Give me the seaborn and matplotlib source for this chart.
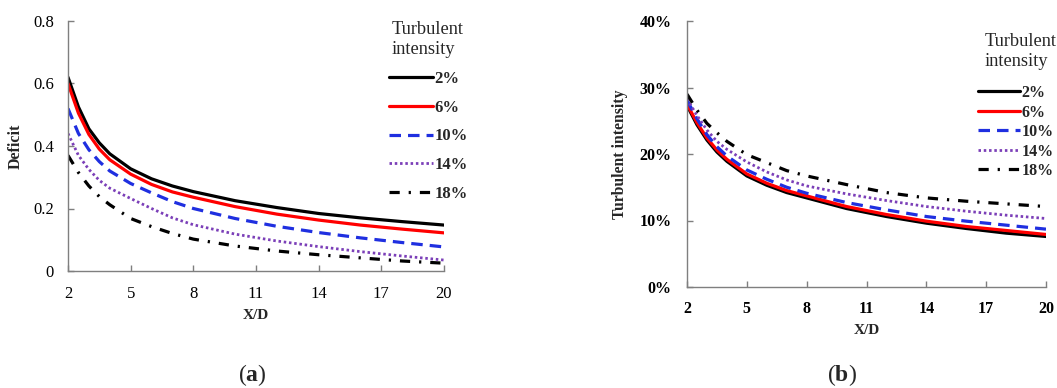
import matplotlib
matplotlib.use("Agg")
import matplotlib.pyplot as plt
import seaborn as sns
import pandas as pd
from matplotlib.ticker import FixedLocator, FuncFormatter

sns.set_theme(style="white")
plt.rcParams["font.family"] = ["Liberation Serif", "DejaVu Serif"]
plt.rcParams["mathtext.fontset"] = "custom"
plt.rcParams["mathtext.rm"] = "Liberation Serif"
plt.rcParams["mathtext.bf"] = "Liberation Serif:bold"

# Downstream distance (X/D)
xd = [2, 2.5, 3, 3.5, 4, 5, 6, 7, 8, 10, 12, 14, 16, 18, 20]

# Ambient turbulent intensity of each curve
ti_labels = ["2%", "6%", "10%", "14%", "18%"]

# (a) velocity deficit
deficit_2 = [0.62, 0.525, 0.455, 0.41, 0.375, 0.327, 0.295, 0.272, 0.254, 0.225, 0.203, 0.184, 0.170, 0.158, 0.147]
deficit_6 = [0.60, 0.505, 0.437, 0.39, 0.356, 0.310, 0.277, 0.253, 0.236, 0.206, 0.182, 0.163, 0.147, 0.134, 0.122]
deficit_10 = [0.52, 0.44, 0.388, 0.35, 0.32, 0.280, 0.250, 0.222, 0.200, 0.168, 0.143, 0.123, 0.106, 0.091, 0.077]
deficit_14 = [0.44, 0.37, 0.325, 0.29, 0.265, 0.232, 0.200, 0.170, 0.148, 0.118, 0.096, 0.078, 0.062, 0.048, 0.035]
deficit_18 = [0.37, 0.315, 0.272, 0.238, 0.212, 0.168, 0.142, 0.120, 0.102, 0.080, 0.064, 0.052, 0.042, 0.032, 0.025]

# (b) wake turbulent intensity (%)
wake_ti_2 = [27.3, 24.4, 22.1, 20.3, 18.9, 16.7, 15.3, 14.2, 13.4, 11.8, 10.6, 9.6, 8.8, 8.1, 7.6]
wake_ti_6 = [27.5, 24.7, 22.4, 20.6, 19.2, 17.0, 15.6, 14.5, 13.7, 12.1, 10.9, 9.9, 9.1, 8.5, 7.9]
wake_ti_10 = [28.1, 25.3, 22.9, 21.1, 19.7, 17.6, 16.2, 15.0, 14.1, 12.7, 11.6, 10.6, 9.9, 9.3, 8.7]
wake_ti_14 = [28.3, 25.8, 23.6, 21.9, 20.7, 18.8, 17.3, 16.1, 15.2, 14.0, 13.0, 12.1, 11.4, 10.8, 10.3]
wake_ti_18 = [29.0, 26.6, 24.6, 23.2, 21.9, 19.9, 18.7, 17.5, 16.7, 15.4, 14.2, 13.4, 12.9, 12.5, 12.1]

x_ticks = [2, 5, 8, 11, 14, 17, 20]
deficit_ticks = [0, 0.2, 0.4, 0.6, 0.8]
wake_ti_ticks = [0, 10, 20, 30, 40]

line_styles = [
    dict(color="black", linestyle="-", linewidth=2.3),
    dict(color="#ff0000", linestyle="-", linewidth=2.3),
    dict(color="#1f2fe0", linestyle=(0, (3.6, 2.2)), linewidth=2.3),
    dict(color="#7b3fb8", linestyle=(0, (0.9, 1.0)), linewidth=2.0),
    dict(color="black", linestyle=(0, (3.2, 2.8, 0.7, 2.8)), linewidth=2.3),
]

def long_frame(series):
    frames = []
    for lab, vals in zip(ti_labels, series):
        frames.append(pd.DataFrame({"xd": xd, "value": vals, "ti": lab}))
    return pd.concat(frames, ignore_index=True)

df_a = long_frame([deficit_2, deficit_6, deficit_10, deficit_14, deficit_18])
df_b = long_frame([wake_ti_2, wake_ti_6, wake_ti_10, wake_ti_14, wake_ti_18])

W, H = 1057, 388
fig = plt.figure(figsize=(W / 100, H / 100), dpi=100)
ax_a = fig.add_axes([68 / W, 1 - 271 / H, 376 / W, 250 / H])
ax_b = fig.add_axes([687 / W, 1 - 287 / H, 359 / W, 266 / H])

spine_color = "#7f7f7f"

def draw(ax, df):
    for lab, st in zip(ti_labels, line_styles):
        sub = df[df["ti"] == lab]
        sns.lineplot(data=sub, x="xd", y="value", ax=ax, label=lab,
                     color=st["color"], linestyle=st["linestyle"],
                     linewidth=st["linewidth"], estimator=None, sort=False)
    ax.set_xlim(2, 20)
    ax.xaxis.set_major_locator(FixedLocator(x_ticks))
    for side in ("top", "right"):
        ax.spines[side].set_visible(False)
    for side in ("left", "bottom"):
        ax.spines[side].set_color(spine_color)
        ax.spines[side].set_linewidth(1.0)
    ax.tick_params(direction="in", length=4, width=1, color=spine_color,
                   colors="black", bottom=True, left=True)
    ax.set_facecolor("white")
    ax.grid(False)
    ax.legend_.remove()

def add_legend(ax, x_px, top_px, size, spacing, title_x, title_top, title_size):
    h, l = ax.get_legend_handles_labels()
    fig.legend(h, l, loc="upper left",
               bbox_to_anchor=(x_px / W, 1 - top_px / H), frameon=False,
               prop=dict(weight="bold", size=size), alignment="left",
               handlelength=2.64, handletextpad=0.1,
               labelspacing=spacing, borderpad=0, borderaxespad=0)
    fig.text(title_x / W, 1 - title_top / H, "Turbulent\nintensity",
             ha="left", va="top", fontsize=title_size, linespacing=1.25)

# (a) deficit
draw(ax_a, df_a)
ax_a.set_ylim(0, 0.8)
ax_a.yaxis.set_major_locator(FixedLocator(deficit_ticks))
ax_a.yaxis.set_major_formatter(FuncFormatter(lambda v, p: "0" if v == 0 else f"{v:.1f}"))
ax_a.tick_params(axis="x", pad=11, labelsize=12)
ax_a.tick_params(axis="y", pad=10, labelsize=12)
ax_a.set_xlabel("X/D", fontsize=11, fontweight="bold", labelpad=5)
ax_a.set_ylabel("Deficit", fontsize=11.5, fontweight="bold", labelpad=7)
add_legend(ax_a, 389, 71, 12, 0.76, 392, 21, 13.2)

# (b) wake turbulent intensity
draw(ax_b, df_b)
ax_b.set_ylim(0, 40)
ax_b.yaxis.set_major_locator(FixedLocator(wake_ti_ticks))
ax_b.yaxis.set_major_formatter(FuncFormatter(lambda v, p: f"{v:.0f}%"))
ax_b.tick_params(axis="x", pad=10, labelsize=11.5)
ax_b.tick_params(axis="y", pad=11, labelsize=11.5)
for t in ax_b.get_xticklabels() + ax_b.get_yticklabels():
    t.set_fontweight("bold")
ax_b.set_xlabel("X/D", fontsize=11, fontweight="bold", labelpad=5)
ax_b.set_ylabel("Turbulent intensity", fontsize=11.3, fontweight="bold", labelpad=8)
add_legend(ax_b, 978, 85, 11.5, 0.22, 985, 33, 13.2)

fig.text(252 / W, 1 - 375 / H, r"($\mathbf{a}$)", ha="center", va="center", fontsize=17)
fig.text(842 / W, 1 - 375 / H, r"($\mathbf{b}$)", ha="center", va="center", fontsize=17)

fig.savefig("out.png", dpi=100, facecolor="white")
